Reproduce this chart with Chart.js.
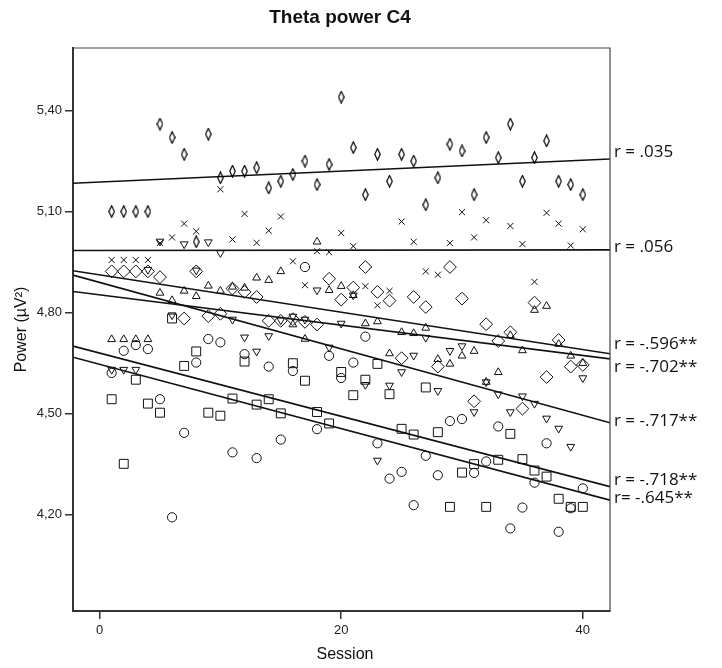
<!DOCTYPE html>
<html lang="en">
<head>
<meta charset="UTF-8">
<title>Theta power C4</title>
<style>
  html, body { margin: 0; padding: 0; background: #fff; }
  #wrap { width: 722px; height: 668px; position: relative; }
</style>
<script src="https://cdn.jsdelivr.net/npm/chart.js"></script>
</head>
<body>
<div id="wrap"><canvas id="thetaChart"></canvas></div>
<script>
// sessions 1..40
const sessions = [1, 2, 3, 4, 5, 6, 7, 8, 9, 10, 11, 12, 13, 14, 15, 16, 17, 18, 19, 20,
                  21, 22, 23, 24, 25, 26, 27, 28, 29, 30, 31, 32, 33, 34, 35, 36, 37, 38, 39, 40];

// power values, one array per marker type
const thinDiamondVals = [5.10, 5.10, 5.10, 5.10, 5.36, 5.32, 5.27, 5.01, 5.33, 5.20,
                         5.22, 5.22, 5.23, 5.17, 5.19, 5.21, 5.25, 5.18, 5.24, 5.44,
                         5.29, 5.15, 5.27, 5.19, 5.27, 5.25, 5.12, 5.20, 5.30, 5.28,
                         5.15, 5.32, 5.26, 5.36, 5.19, 5.26, 5.31, 5.19, 5.18, 5.15];
const crossVals = [4.956, 4.956, 4.956, 4.956, 5.006, 5.023, 5.064, 5.041, null, 5.166,
                   5.017, 5.093, 5.007, 5.043, 5.085, 4.952, 4.881, 4.982, 4.979, 5.036,
                   4.997, 4.878, 4.821, 4.864, 5.070, 5.010, 4.922, 4.912, 5.006, 5.098,
                   5.023, 5.074, null, 5.057, 5.003, 4.891, 5.096, 5.064, 4.999, 5.047];
const diamondVals = [4.922, 4.922, 4.922, 4.922, 4.905, null, 4.782, 4.922, 4.789, 4.796,
                     4.871, 4.861, 4.846, 4.775, 4.775, 4.780, 4.772, 4.764, 4.900, 4.838,
                     4.874, 4.935, 4.861, 4.835, 4.664, 4.846, 4.816, 4.639, 4.935, 4.841,
                     4.536, 4.765, 4.715, 4.741, 4.514, 4.829, 4.608, 4.718, 4.639, 4.644];
const triUpVals = [4.720, 4.720, 4.720, 4.720, 4.858, 4.836, 4.864, 4.848, 4.879, 4.864,
                   4.876, 4.873, 4.903, 4.896, 4.922, 4.764, 4.721, 5.010, 4.866, 4.878,
                   4.851, 4.767, 4.773, 4.678, 4.741, 4.738, 4.754, 4.661, 4.647, 4.671,
                   4.685, 4.593, 4.622, 4.732, 4.687, 4.807, 4.819, 4.706, 4.671, 4.649];
const triDownVals = [4.630, 4.630, 4.630, 4.927, 5.011, 4.792, 5.003, 4.925, 5.009, 4.977,
                     4.779, 4.726, 4.684, 4.730, 4.777, 4.788, 4.779, 4.866, 4.696, 4.767,
                     4.851, 4.585, 4.360, 4.583, 4.623, 4.672, 4.725, 4.567, 4.686, 4.700,
                     4.504, 4.593, 4.557, 4.504, 4.551, 4.529, 4.485, 4.455, 4.401, 4.605];
const squareVals = [4.542, 4.350, 4.600, 4.529, 4.502, 4.782, 4.641, 4.684, 4.502, 4.493,
                    4.544, 4.654, 4.526, 4.542, 4.500, 4.649, 4.597, 4.504, 4.470, 4.623,
                    4.554, 4.600, 4.647, 4.557, 4.454, 4.437, 4.577, 4.444, 4.222, 4.324,
                    4.349, 4.222, 4.362, 4.439, 4.364, 4.330, 4.312, 4.246, 4.222, 4.222];
const circleVals = [4.620, 4.686, 4.703, 4.691, 4.542, 4.191, 4.442, 4.651, 4.721, 4.711,
                    4.384, 4.676, 4.367, 4.639, 4.422, 4.626, 4.935, 4.453, 4.671, 4.605,
                    4.651, 4.728, 4.411, 4.306, 4.326, 4.227, 4.374, 4.316, 4.477, 4.483,
                    4.323, 4.357, 4.461, 4.158, 4.220, 4.294, 4.411, 4.148, 4.218, 4.277];

// fit lines: value at the left and right edge of the plot
const fitX = [-2.2, 42.25];
const fitThinDiamond = [5.184, 5.256];
const fitCross = [4.984, 4.986];
const fitDiamond = [4.924, 4.677];
const fitTriUp = [4.862, 4.662];
const fitTriDown = [4.911, 4.472];
const fitSquare = [4.700, 4.282];
const fitCircle = [4.667, 4.242];
const rLabels = ['r = .035', 'r = .056', 'r = -.596**', 'r = -.702**', 'r = -.717**', 'r = -.718**', 'r= -.645**'];

const xTicks = [0, 20, 40];
const yTicks = [4.20, 4.50, 4.80, 5.10, 5.40];

const INK = '#111';

// tall narrow diamond, drawn at 2x so it stays crisp
function thinDiamondMarker() {
    const c = document.createElement('canvas');
    c.width = 14; c.height = 26;
    const g = c.getContext('2d');
    g.strokeStyle = '#000';
    g.lineWidth = 2.4;
    g.beginPath();
    g.moveTo(7, 1.5); g.lineTo(12.5, 13); g.lineTo(7, 24.5); g.lineTo(1.5, 13);
    g.closePath();
    g.stroke();
    const img = new Image(7, 13);
    img.src = c.toDataURL();
    return img;
}

function pts(vals) {
    return sessions.map((s, i) => ({ x: s, y: vals[i] })).filter(p => p.y !== null);
}

function scatterSet(vals, style, radius, rotation) {
    return {
        data: pts(vals),
        pointStyle: style,
        pointRadius: radius,
        pointRotation: rotation || 0,
        pointBorderColor: INK,
        pointBackgroundColor: 'rgba(0,0,0,0)',
        pointBorderWidth: 1,
        showLine: false
    };
}

function fitSet(fit) {
    return {
        data: [{ x: fitX[0], y: fit[0] }, { x: fitX[1], y: fit[1] }],
        showLine: true,
        borderColor: INK,
        borderWidth: 1.6,
        pointRadius: 0,
        fill: false
    };
}

const fits = [fitThinDiamond, fitCross, fitDiamond, fitTriUp, fitTriDown, fitSquare, fitCircle];
const labelNudge = [-7, -3, -10, 8, -2, -7, -2];

const extras = {
    id: 'extras',
    afterDraw(chart) {
        const { ctx, chartArea: a, scales: { y } } = chart;
        ctx.save();
        ctx.strokeStyle = '#444';
        ctx.lineWidth = 1.2;
        ctx.beginPath();
        ctx.moveTo(a.left, a.top); ctx.lineTo(a.right, a.top); ctx.lineTo(a.right, a.bottom);
        ctx.stroke();

        ctx.fillStyle = INK;
        ctx.textBaseline = 'middle';
        ctx.textAlign = 'center';
        ctx.font = 'bold 19px "Liberation Sans", Arial, sans-serif';
        ctx.fillText('Theta power C4', 340, 18);

        ctx.font = '16px "Liberation Sans", Arial, sans-serif';
        ctx.fillText('Session', 345, 655);
        ctx.save();
        ctx.translate(22, (a.top + a.bottom) / 2);
        ctx.rotate(-Math.PI / 2);
        ctx.fillText('Power (µV²)', 0, 0);
        ctx.restore();

        ctx.textAlign = 'left';
        ctx.font = '17px "Open Sans", sans-serif';
        fits.forEach((f, i) => {
            ctx.fillText(rLabels[i], a.right + 4, y.getPixelForValue(f[1]) + labelNudge[i]);
        });
        ctx.restore();
    }
};

const tickFont = { family: '"Liberation Sans", Arial, sans-serif', size: 13 };

const marker = thinDiamondMarker();

function build() {
    new Chart(document.getElementById('thetaChart'), {
        type: 'scatter',
        data: {
            datasets: [
                scatterSet(thinDiamondVals, marker, 6),
                scatterSet(crossVals, 'crossRot', 4.3),
                scatterSet(diamondVals, 'rectRot', 6.4),
                scatterSet(triUpVals, 'triangle', 4.5),
                scatterSet(triDownVals, 'triangle', 4.5, 180),
                scatterSet(squareVals, 'rect', 6.3),
                scatterSet(circleVals, 'circle', 4.6),
                ...fits.map(fitSet)
            ]
        },
        options: {
            responsive: true,
            maintainAspectRatio: false,
            animation: false,
            layout: { padding: { top: 48, right: 112, left: 0, bottom: 0 } },
            plugins: { legend: { display: false }, tooltip: { enabled: false } },
            scales: {
                x: {
                    type: 'linear',
                    min: fitX[0],
                    max: fitX[1],
                    afterBuildTicks: s => { s.ticks = xTicks.map(v => ({ value: v })); },
                    afterFit: s => { s.height = 57; },
                    grid: { drawOnChartArea: false, tickLength: 8, color: '#333', lineWidth: 1.5 },
                    border: { color: '#333', width: 2 },
                    ticks: { font: tickFont, color: '#222', padding: 4, maxRotation: 0 }
                },
                y: {
                    min: 3.9125,
                    max: 5.586,
                    afterBuildTicks: s => { s.ticks = yTicks.map(v => ({ value: v })); },
                    afterFit: s => { s.width = 73; },
                    grid: { drawOnChartArea: false, tickLength: 8, color: '#333', lineWidth: 1.5 },
                    border: { color: '#333', width: 2 },
                    ticks: {
                        font: tickFont, color: '#222', padding: 3,
                        callback: v => v.toFixed(2).replace('.', ',')
                    }
                }
            }
        },
        plugins: [extras]
    });
}

if (marker.complete) build(); else marker.onload = build;
</script>
</body>
</html>
